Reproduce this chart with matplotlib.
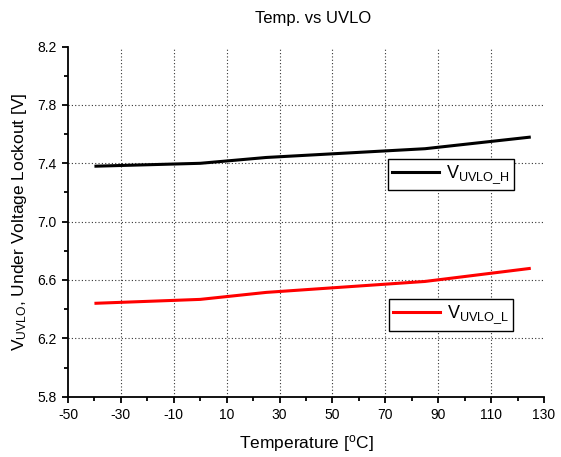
import numpy as np
import matplotlib
matplotlib.use("Agg")
import matplotlib.pyplot as plt
from matplotlib.lines import Line2D
from matplotlib.ticker import FixedLocator, MultipleLocator, FormatStrFormatter

plt.rcParams['font.family'] = ['Liberation Sans', 'DejaVu Sans']
plt.rcParams['mathtext.default'] = 'regular'
plt.rcParams['axes.unicode_minus'] = False

# data
temperature = [-40, 0, 25, 85, 125]
uvlo_h = [7.38, 7.40, 7.44, 7.50, 7.58]
uvlo_l = [6.44, 6.467, 6.515, 6.59, 6.68]

x_ticks = [-50, -30, -10, 10, 30, 50, 70, 90, 110, 130]
y_ticks = [5.8, 6.2, 6.6, 7.0, 7.4, 7.8, 8.2]

fig = plt.figure(figsize=(5.61, 4.57), dpi=100)
ax = fig.add_axes([0.1212, 0.132, 0.8485, 0.766])

ax.plot(temperature, uvlo_h, color='black', lw=2.2, solid_capstyle='butt')
ax.plot(temperature, uvlo_l, color='red', lw=2.2, solid_capstyle='butt')

ax.set_xlim(x_ticks[0], x_ticks[-1])
ax.set_ylim(y_ticks[0], y_ticks[-1])
ax.xaxis.set_major_locator(FixedLocator(x_ticks))
ax.xaxis.set_minor_locator(MultipleLocator(10))
ax.yaxis.set_major_locator(FixedLocator(y_ticks))
ax.yaxis.set_minor_locator(MultipleLocator(0.2))
ax.yaxis.set_major_formatter(FormatStrFormatter('%.1f'))

ax.grid(which='major', linestyle=(0, (1, 2)), color='#333333', lw=0.8)
# no grid on the axis edges
for gl in (ax.xaxis.get_gridlines()[0], ax.xaxis.get_gridlines()[-1],
           ax.yaxis.get_gridlines()[0], ax.yaxis.get_gridlines()[-1]):
    gl.set_visible(False)

for side in ['top', 'right']:
    ax.spines[side].set_visible(False)
for side in ['left', 'bottom']:
    ax.spines[side].set_linewidth(1.3)

ax.tick_params(which='major', direction='out', length=4, width=1.3, labelsize=10,
               colors='black', pad=4)
ax.tick_params(which='minor', direction='out', length=3, width=1.3)

ax.set_xlabel(r'Temperature [$^{o}$C]', fontsize=12.5, labelpad=8)
ax.set_ylabel(r'V$_{UVLO}$, Under Voltage Lockout [V]', fontsize=12.5, labelpad=6)
fig.text(0.559, 1 - 18 / 457, 'Temp. vs UVLO', ha='center', va='center', fontsize=12)

# two separate legend boxes, as in the original
leg_h = ax.legend([Line2D([], [], color='black', lw=2.2)], [r'V$_{UVLO\_H}$'],
                  loc='lower left', bbox_to_anchor=(0.672, 0.589), borderaxespad=0,
                  fancybox=False, edgecolor='black', framealpha=1, fontsize=13,
                  handlelength=2.6, handletextpad=0.35, borderpad=0.25)
leg_h.get_frame().set_linewidth(1.0)
ax.add_artist(leg_h)

leg_l = ax.legend([Line2D([], [], color='red', lw=2.2)], [r'V$_{UVLO\_L}$'],
                  loc='lower left', bbox_to_anchor=(0.674, 0.189), borderaxespad=0,
                  fancybox=False, edgecolor='black', framealpha=1, fontsize=13,
                  handlelength=2.6, handletextpad=0.35, borderpad=0.25)
leg_l.get_frame().set_linewidth(1.0)

fig.savefig('out.png', dpi=100)
